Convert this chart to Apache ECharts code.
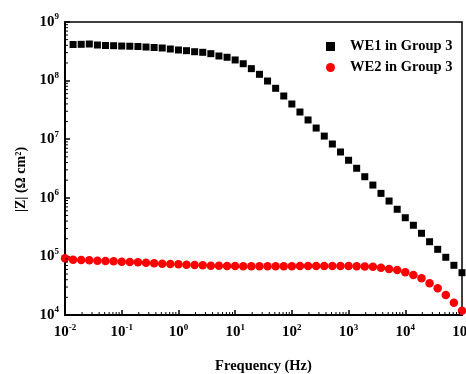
<!DOCTYPE html>
<html>
<head>
<meta charset="utf-8">
<script src="https://cdn.jsdelivr.net/npm/echarts@6/dist/echarts.min.js"></script>
<style>
  html, body { margin: 0; padding: 0; background: #fff; }
  #chart { width: 466px; height: 374px; }
</style>
</head>
<body>
<div id="chart"></div>
<script>
// Measurement frequencies (Hz), 7 points per decade, 10 mHz – 100 kHz
const frequencies = [
  0.01, 0.01389, 0.01931, 0.02683, 0.03728, 0.05179, 0.07197,
  0.1, 0.1389, 0.1931, 0.2683, 0.3728, 0.5179, 0.7197,
  1, 1.389, 1.931, 2.683, 3.728, 5.179, 7.197,
  10, 13.89, 19.31, 26.83, 37.28, 51.79, 71.97,
  100, 138.9, 193.1, 268.3, 372.8, 517.9, 719.7,
  1000, 1389, 1931, 2683, 3728, 5179, 7197,
  10000, 13895, 19307, 26827, 37276, 51795, 71969,
  100000
];

// |Z| of WE1 (starts at the second frequency)
const we1Freq = frequencies.slice(1);
const we1Z = [
  4.13e8, 4.16e8, 4.21e8, 4.05e8, 3.97e8, 3.94e8, 3.89e8, 3.86e8, 3.82e8, 3.74e8,
  3.67e8, 3.60e8, 3.46e8, 3.33e8, 3.24e8, 3.11e8, 3.04e8, 2.88e8, 2.63e8, 2.50e8,
  2.25e8, 1.94e8, 1.60e8, 1.28e8, 9.84e7, 7.39e7, 5.46e7, 3.99e7, 2.91e7, 2.13e7,
  1.55e7, 1.13e7, 8.28e6, 6.05e6, 4.37e6, 3.19e6, 2.29e6, 1.65e6, 1.19e6, 8.81e5,
  6.37e5, 4.57e5, 3.40e5, 2.48e5, 1.78e5, 1.32e5, 9.66e4, 7.05e4, 5.27e4
];

// |Z| of WE2
const we2Freq = frequencies;
const we2Z = [
  9.29e4, 8.79e4, 8.69e4, 8.58e4, 8.45e4, 8.35e4, 8.24e4, 8.13e4, 8.02e4, 7.92e4,
  7.80e4, 7.62e4, 7.50e4, 7.41e4, 7.33e4, 7.21e4, 7.13e4, 7.05e4, 6.94e4, 6.94e4,
  6.86e4, 6.86e4, 6.78e4, 6.78e4, 6.78e4, 6.80e4, 6.80e4, 6.82e4, 6.82e4, 6.84e4,
  6.84e4, 6.84e4, 6.86e4, 6.86e4, 6.86e4, 6.84e4, 6.80e4, 6.74e4, 6.67e4, 6.41e4,
  6.09e4, 5.86e4, 5.35e4, 4.82e4, 4.23e4, 3.47e4, 2.86e4, 2.19e4, 1.62e4, 1.18e4
];

const seriesNames = ['WE1 in Group 3', 'WE2 in Group 3'];

// Decade exponents used for the tick labels
const xExponents = [-2, -1, 0, 1, 2, 3, 4, 5];
const yExponents = [4, 5, 6, 7, 8, 9];

const FONT = '"Liberation Serif", "DejaVu Serif", serif';

function pairs(xs, ys) { return xs.map((x, i) => [x, ys[i]]); }

// Minor tick positions at 2..9 × 10^n inside each decade
function minorValues(exps) {
  const out = [];
  for (let i = 0; i < exps.length - 1; i++) {
    for (let m = 2; m <= 9; m++) out.push(m * Math.pow(10, exps[i]));
  }
  return out;
}

const xMin = Math.pow(10, xExponents[0]);
const xMax = Math.pow(10, xExponents[xExponents.length - 1]);
const yMin = Math.pow(10, yExponents[0]);
const yMax = Math.pow(10, yExponents[yExponents.length - 1]);

function powLabel(v) {
  const e = Math.round(Math.log10(v));
  return '{b|10}{s|' + e + '}';
}

const richLabel = {
  b: { fontFamily: FONT, fontWeight: 'bold', fontSize: 15, color: '#000' },
  s: { fontFamily: FONT, fontWeight: 'bold', fontSize: 9, color: '#000',
       verticalAlign: 'bottom', padding: [0, 0, 10, 0] }
};

const chart = echarts.init(document.getElementById('chart'), null, { renderer: 'canvas' });

chart.setOption({
  animation: false,
  backgroundColor: '#fff',
  grid: {
    left: 65, right: 4, top: 22, bottom: 59,
    outerBoundsMode: 'none', containLabel: false,
    show: true, borderColor: '#000', borderWidth: 1.5, backgroundColor: 'transparent'
  },
  legend: {
    data: [
      { name: seriesNames[0], icon: 'rect' },
      { name: seriesNames[1], icon: 'circle' }
    ],
    orient: 'vertical',
    left: 321, top: 34,
    itemWidth: 9, itemHeight: 9, itemGap: 6,
    textStyle: { fontFamily: FONT, fontWeight: 'bold', fontSize: 14.5, color: '#000', padding: [0, 0, 0, 10] }
  },
  xAxis: {
    type: 'log', logBase: 10, min: xMin, max: xMax, interval: 1,
    name: 'Frequency (Hz)', nameLocation: 'middle', nameGap: 44,
    nameTextStyle: { fontFamily: FONT, fontWeight: 'bold', fontSize: 14.5, color: '#000' },
    axisLine: { onZero: false, lineStyle: { color: '#000', width: 2 } },
    axisTick: { inside: true, length: 5, lineStyle: { color: '#000', width: 1.5 } },
    axisLabel: { margin: 8, formatter: powLabel, rich: richLabel },
    splitLine: { show: false }
  },
  yAxis: {
    type: 'log', logBase: 10, min: yMin, max: yMax, interval: 1,
    name: '|Z| (Ω cm²)', nameLocation: 'middle', nameGap: 36, nameRotate: 90,
    nameTextStyle: { fontFamily: FONT, fontWeight: 'bold', fontSize: 14, color: '#000',
                     padding: [0, 22, 0, 0] },
    axisLine: { onZero: false, lineStyle: { color: '#000', width: 2 } },
    axisTick: { inside: true, length: 5, lineStyle: { color: '#000', width: 1.5 } },
    axisLabel: { margin: 6, formatter: powLabel, rich: richLabel },
    splitLine: { show: false }
  },
  series: [
    {
      name: seriesNames[0], type: 'scatter', symbol: 'rect', symbolSize: 7,
      itemStyle: { color: '#000', opacity: 1 },
      data: pairs(we1Freq, we1Z), z: 3
    },
    {
      name: seriesNames[1], type: 'scatter', symbol: 'circle', symbolSize: 8.5,
      itemStyle: { color: '#ff0000', opacity: 1 },
      data: pairs(we2Freq, we2Z), z: 2
    },
    {
      // minor ticks along the frequency axis
      type: 'custom', silent: true, clip: false, z: 5,
      data: minorValues(xExponents).map(v => [v, yMin]),
      renderItem: function (params, api) {
        const p = api.coord([api.value(0), api.value(1)]);
        return { type: 'line', shape: { x1: p[0], y1: p[1], x2: p[0], y2: p[1] - 3 },
                 style: { stroke: '#000', lineWidth: 1 } };
      }
    },
    {
      // minor ticks along the impedance axis
      type: 'custom', silent: true, clip: false, z: 5,
      data: minorValues(yExponents).map(v => [xMin, v]),
      renderItem: function (params, api) {
        const p = api.coord([api.value(0), api.value(1)]);
        return { type: 'line', shape: { x1: p[0], y1: p[1], x2: p[0] + 3, y2: p[1] },
                 style: { stroke: '#000', lineWidth: 1 } };
      }
    }
  ]
});
</script>
</body>
</html>
